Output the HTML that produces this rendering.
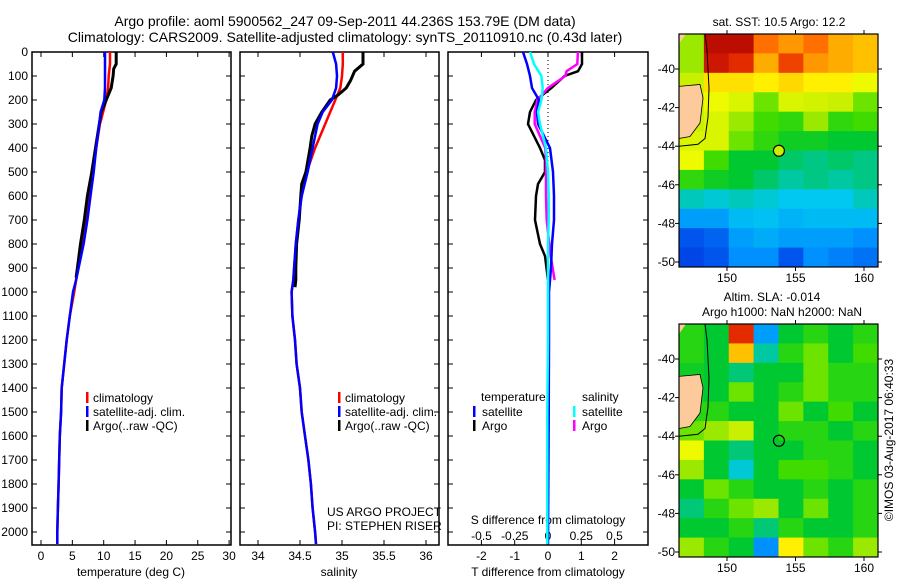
<!DOCTYPE html>
<html><head><meta charset="utf-8">
<style>
body{margin:0;background:#fff;width:900px;height:580px;overflow:hidden}
svg{display:block;font-family:"Liberation Sans",sans-serif}
text{fill:#000}
</style></head>
<body>
<svg id="fig" width="900" height="580" viewBox="0 0 900 580">
<text x="345" y="26" font-size="14" text-anchor="middle">Argo profile: aoml 5900562_247 09-Sep-2011 44.236S 153.79E (DM data)</text>
<text x="345" y="42" font-size="14" text-anchor="middle">Climatology: CARS2009. Satellite-adjusted climatology: synTS_20110910.nc (0.43d later)</text>
<g id="p1"></g>
<g id="p2"></g>
<g id="p3"></g>
<g id="m1"></g>
<g id="m2"></g>
</svg>
<script>
// ---- data ----
const depth = [0,50,100,150,200,250,300,400,500,600,700,800,900,950,1000,1100,1200,1300,1400,1500,1600,1700,1800,1900,2000,2050];
const tClim = [11.0,11.0,10.8,10.7,10.4,9.9,9.4,8.8,8.3,7.8,7.3,6.7,5.9,5.6,5.3,4.6,4.1,3.7,3.3,3.2,3.0,2.9,2.8,2.7,2.6,2.6];
const tSat  = [10.2,10.2,10.2,10.2,10.1,9.5,9.3,8.8,8.4,7.9,7.4,6.8,6.0,5.6,5.1,4.6,4.1,3.7,3.3,3.2,3.0,2.9,2.8,2.7,2.6,2.6];
const argoDepth = [0,50,70,100,150,200,250,300,400,500,600,700,800,900,940];
const tArgo = [12.0,12.0,11.6,11.5,11.2,10.4,9.6,9.3,8.7,8.1,7.4,6.9,6.3,5.8,5.6];
const sClim = [35.01,35.01,35.0,34.98,34.92,34.86,34.8,34.68,34.58,34.52,34.48,34.45,34.43,34.42,34.40,34.41,34.44,34.46,34.5,34.52,34.56,34.6,34.63,34.65,34.68,34.69];
const sSat  = [34.89,34.93,34.94,34.93,34.88,34.77,34.71,34.65,34.59,34.52,34.48,34.45,34.43,34.42,34.40,34.41,34.44,34.46,34.5,34.52,34.56,34.6,34.63,34.65,34.68,34.69];
const sArgoDepth = [0,50,80,120,150,180,200,250,300,350,400,500,550,600,700,800,900,950,980];
const sArgo = [35.25,35.25,35.15,35.1,35.05,34.95,34.86,34.76,34.68,34.64,34.62,34.57,34.52,34.51,34.49,34.46,34.45,34.45,34.44];
const diffDepth = [0,50,100,150,200,250,300,400,500,600,700,800,900,1000,1200,1500,1800,2050];
const dTSat = [-0.75,-0.63,-0.54,-0.48,-0.27,-0.33,-0.3,0.06,0.15,0.18,0.18,0.12,0.09,0.03,0.03,0.02,0.01,0.0];
const dSSat = [-0.135,-0.105,-0.05,-0.04,-0.05,-0.075,-0.06,-0.015,0.0,0.005,0.005,0.0,0.0,0.0,0.0,-0.005,-0.005,-0.005];
const dArgoDepth = [0,50,80,100,150,200,250,300,400,450,500,550,600,700,800,850,950];
const dTArgo = [1.02,1.02,0.9,0.5,0.1,-0.36,-0.54,-0.6,-0.24,-0.09,-0.09,-0.3,-0.36,-0.39,-0.24,-0.09,0.0];
const dSArgo = [0.225,0.22,0.14,0.13,0.0,-0.08,-0.1,-0.1,-0.02,-0.015,-0.015,-0.015,-0.015,-0.01,0.01,0.02,0.05];
const sstGrid = [
[0.62,0.97,0.97,0.86,0.82,0.86,0.8,0.78],
[0.62,0.95,0.92,0.8,0.9,0.82,0.8,0.78],
[0.64,0.74,0.74,0.72,0.75,0.72,0.72,0.68],
[0.64,0.68,0.66,0.6,0.66,0.65,0.64,0.6],
[0.64,0.66,0.62,0.58,0.56,0.62,0.56,0.58],
[0.66,0.66,0.6,0.56,0.52,0.52,0.5,0.5],
[0.68,0.58,0.5,0.5,0.46,0.44,0.46,0.44],
[0.56,0.52,0.5,0.46,0.42,0.44,0.42,0.44],
[0.4,0.38,0.4,0.38,0.36,0.36,0.36,0.4],
[0.3,0.3,0.34,0.35,0.33,0.34,0.34,0.34],
[0.2,0.22,0.3,0.32,0.3,0.3,0.3,0.28],
[0.18,0.2,0.28,0.28,0.2,0.28,0.26,0.24]];
const slaGrid = [
[0.55,0.5,0.92,0.3,0.5,0.55,0.5,0.55],
[0.55,0.5,0.78,0.42,0.55,0.6,0.5,0.58],
[0.52,0.5,0.45,0.5,0.5,0.6,0.55,0.55],
[0.52,0.5,0.6,0.5,0.55,0.6,0.55,0.55],
[0.55,0.55,0.5,0.5,0.6,0.5,0.58,0.5],
[0.6,0.62,0.64,0.5,0.55,0.55,0.5,0.55],
[0.68,0.5,0.45,0.5,0.5,0.55,0.55,0.5],
[0.62,0.5,0.38,0.5,0.58,0.58,0.55,0.5],
[0.5,0.6,0.55,0.5,0.5,0.55,0.5,0.55],
[0.45,0.55,0.6,0.62,0.5,0.6,0.5,0.55],
[0.5,0.5,0.55,0.45,0.55,0.5,0.5,0.55],
[0.62,0.55,0.5,0.28,0.72,0.6,0.55,0.62]];
const depthTicks = [0,100,200,300,400,500,600,700,800,900,1000,1100,1200,1300,1400,1500,1600,1700,1800,1900,2000];
const tTicks = [0,5,10,15,20,25,30];
const sTicks = [34,34.5,35,35.5,36];
const dTTicks = [-2,-1,0,1,2];
const dSTicks = [-0.5,-0.25,0,0.25,0.5];
const latTicks = [-40,-42,-44,-46,-48,-50];
const lonTicks = [150,155,160];

// ---- helpers ----
const NS="http://www.w3.org/2000/svg";
function el(parent,tag,attrs,txt){const e=document.createElementNS(NS,tag);for(const k in attrs)e.setAttribute(k,attrs[k]);if(txt!==undefined)e.textContent=txt;parent.appendChild(e);return e;}
const TOP=52, BOT=545;
const yD = d => TOP + d*0.24;
function frame(g,x0,x1,name){
  const r=el(g,'rect',{x:x0,y:TOP,width:x1-x0,height:BOT-TOP,fill:'none',stroke:'#000','stroke-width':1.5});
  
  
  depthTicks.forEach(d=>{el(g,'line',{x1:x0,x2:x0+5,y1:yD(d),y2:yD(d),stroke:'#000'});el(g,'line',{x1:x1-5,x2:x1,y1:yD(d),y2:yD(d),stroke:'#000'});});
}
function line(g,xs,ds,xf,color,name,w){
  const pts=xs.map((v,i)=>xf(v).toFixed(1)+','+yD(ds[i]).toFixed(1)).join(' ');
  const p=el(g,'polyline',{points:pts,fill:'none',stroke:color,'stroke-width':w||2.5});
  
  
}
function xticks(g,ticks,xf,y,name,labels){
  ticks.forEach(t=>{const x=xf(t);
    el(g,'line',{x1:x,x2:x,y1:TOP,y2:TOP+5,stroke:'#000'});el(g,'line',{x1:x,x2:x,y1:BOT-5,y2:BOT,stroke:'#000'});
    const tx=el(g,'text',{x:x,y:y,'font-size':12,'text-anchor':'middle'},labels?labels(t):String(t));
    
    });
}
function legend(g,x,items){
  items.forEach((it,i)=>{const y=398+i*14;
    el(g,'rect',{x:x,y:y-6,width:2.5,height:11,fill:it[1]});
    const t=el(g,'text',{x:x+7,y:y+4,'font-size':12},it[0]);
    
    });
}
// ---- panel 1 ----
const p1=document.getElementById('p1');
const xT = t => 41 + t*6.27;
frame(p1,32,231,'temperature-axes');
depthTicks.forEach(d=>{const t=el(p1,'text',{x:28,y:yD(d)+4,'font-size':12,'text-anchor':'end'},String(d));
  
  });
xticks(p1,tTicks,xT,560,'temperature-tick-label');
el(p1,'text',{x:131,y:576,'font-size':12,'text-anchor':'middle',},'temperature (deg C)');
line(p1,tClim,depth,xT,'#f00','temp-climatology-line');
line(p1,tArgo,argoDepth,xT,'#000','temp-argo-line',3);
line(p1,tSat,depth,xT,'#00f','temp-satellite-line');
legend(p1,86,[['climatology','#f00'],['satellite-adj. clim.','#00f'],['Argo(..raw -QC)','#000']]);
// ---- panel 2 ----
const p2=document.getElementById('p2');
const xS = s => 258 + (s-34)*84;
frame(p2,240,439,'salinity-axes');
xticks(p2,sTicks,xS,560,'salinity-tick-label');
el(p2,'text',{x:339,y:576,'font-size':12,'text-anchor':'middle',},'salinity');
line(p2,sClim,depth,xS,'#f00','sal-climatology-line');
line(p2,sArgo,sArgoDepth,xS,'#000','sal-argo-line',3);
line(p2,sSat,depth,xS,'#00f','sal-satellite-line');
legend(p2,338,[['climatology','#f00'],['satellite-adj. clim.','#00f'],['Argo(..raw -QC)','#000']]);
el(p2,'text',{x:327,y:516,'font-size':12,},'US ARGO PROJECT');
el(p2,'text',{x:327,y:530,'font-size':12,},'PI: STEPHEN RISER');
// ---- panel 3 ----
const p3=document.getElementById('p3');
const xDT = v => 548 + v*33.3;
const xDS = v => 548 + v*133;
frame(p3,448,648,'difference-axes');
el(p3,'line',{x1:548,x2:548,y1:TOP,y2:BOT,stroke:'#000','stroke-dasharray':'1,3',});
xticks(p3,dTTicks,xDT,560,'t-diff-tick-label');
dSTicks.forEach(v=>{const t=el(p3,'text',{x:xDS(v),y:540,'font-size':12,'text-anchor':'middle'},String(v));
  
  });
el(p3,'text',{x:548,y:524,'font-size':12,'text-anchor':'middle',},'S difference from climatology');
el(p3,'text',{x:548,y:576,'font-size':12,'text-anchor':'middle',},'T difference from climatology');
line(p3,dTArgo,dArgoDepth,xDT,'#000','t-diff-argo-line');
line(p3,dSArgo,dArgoDepth,xDS,'#f0f','s-diff-argo-line');
line(p3,dTSat,diffDepth,xDT,'#00f','t-diff-satellite-line');
line(p3,dSSat,diffDepth,xDS,'#0ff','s-diff-satellite-line');
el(p3,'text',{x:481,y:401,'font-size':12,},'temperature');
el(p3,'text',{x:582,y:401,'font-size':12,},'salinity');
[[473,412,'#00f','satellite'],[473,426,'#000','Argo'],[573,412,'#0ff','satellite'],[573,426,'#f0f','Argo']].forEach(a=>{
  el(p3,'rect',{x:a[0],y:a[1]-6,width:2.5,height:11,fill:a[2]});
  const t=el(p3,'text',{x:a[0]+9,y:a[1]+4,'font-size':12},a[3]);
  
  });
// ---- maps ----
const stops=[[0,[0,0,128]],[0.15,[0,48,224]],[0.28,[0,144,255]],[0.36,[0,200,240]],[0.42,[0,200,160]],[0.5,[0,200,48]],[0.58,[64,220,0]],[0.64,[200,240,0]],[0.7,[255,255,0]],[0.78,[255,192,0]],[0.86,[255,112,0]],[0.93,[224,32,0]],[1,[160,0,0]]];
function cmap(v){v=Math.max(0,Math.min(1,v));
  for(let i=1;i<stops.length;i++){if(v<=stops[i][0]){const a=stops[i-1],b=stops[i],f=(v-a[0])/(b[0]-a[0]);
    return 'rgb('+a[1].map((c,k)=>Math.round(c+(b[1][k]-c)*f)).join(',')+')';}}
  return 'rgb(160,0,0)';}
function map(id,top,grid,title1,title2){
  const g=document.getElementById(id);
  const X0=679,X1=878,Y0=top,Y1=top+233;
  const lon = L => 727 + (L-150)*13.7;
  const lat = la => top+35 + (-40-la)*19.3;
  const rows=grid.length, cols=grid[0].length, cw=(X1-X0)/cols, rh=(Y1-Y0)/rows;
  grid.forEach((row,i)=>row.forEach((v,j)=>{
    const c=el(g,'rect',{x:X0+j*cw,y:Y0+i*rh,width:cw+0.5,height:rh+0.5,fill:cmap(v)});
    
    }));
  el(g,'polygon',{points:`${X0},${lat(-40.9)} 700,${lat(-40.8)} 703,${lat(-41.5)} 700,${lat(-42.8)} 690,${lat(-43.5)} ${X0},${lat(-43.6)}`,fill:'#fdcb9b',stroke:'#000','stroke-width':0.8,});
  el(g,'polygon',{points:`${X0},${Y0} 686,${Y0} ${X0},${Y0+10}`,fill:'#fdcb9b',});
  el(g,'polyline',{points:`705,${Y0} 707,${lat(-39)} 709,${lat(-41)} 708,${lat(-42.5)} 705,${lat(-43.6)} 698,${lat(-43.9)} ${X0},${lat(-44)}`,fill:'none',stroke:'#000','stroke-width':1,});
  el(g,'rect',{x:X0,y:Y0,width:X1-X0,height:Y1-Y0,fill:'none',stroke:'#000','stroke-width':1.2});
  latTicks.forEach(la=>{const y=lat(la);el(g,'line',{x1:X0-4,x2:X0,y1:y,y2:y,stroke:'#000'});el(g,'line',{x1:X1,x2:X1+4,y1:y,y2:y,stroke:'#000'});
    const t=el(g,'text',{x:675,y:y+4,'font-size':12,'text-anchor':'end'},String(la));
    
    });
  lonTicks.forEach(L=>{const x=lon(L);el(g,'line',{x1:x,x2:x,y1:Y0-4,y2:Y0,stroke:'#000'});el(g,'line',{x1:x,x2:x,y1:Y1,y2:Y1+4,stroke:'#000'});
    const t=el(g,'text',{x:x,y:Y1+15,'font-size':12,'text-anchor':'middle'},String(L));
    
    });
  el(g,'circle',{cx:lon(153.79),cy:lat(-44.236),r:5.5,fill:id==='m1'?'#c8f000':'none',stroke:'#000','stroke-width':1.2,});
  if(title2){el(g,'text',{x:772,y:top-23,'font-size':12,'text-anchor':'middle',},title1);
    el(g,'text',{x:782,y:top-8,'font-size':12,'text-anchor':'middle',},title2);}
  else el(g,'text',{x:779,y:top-8,'font-size':12,'text-anchor':'middle',},title1);
}
map('m1',34,sstGrid,'sat. SST: 10.5 Argo: 12.2',null);
map('m2',324,slaGrid,'Altim. SLA: -0.014','Argo h1000: NaN h2000: NaN');
el(document.getElementById('m2'),'text',{x:0,y:0,'font-size':12,'text-anchor':'middle',transform:'translate(893,440) rotate(-90)',},'©IMOS 03-Aug-2017 06:40:33');
</script>
</body></html>
